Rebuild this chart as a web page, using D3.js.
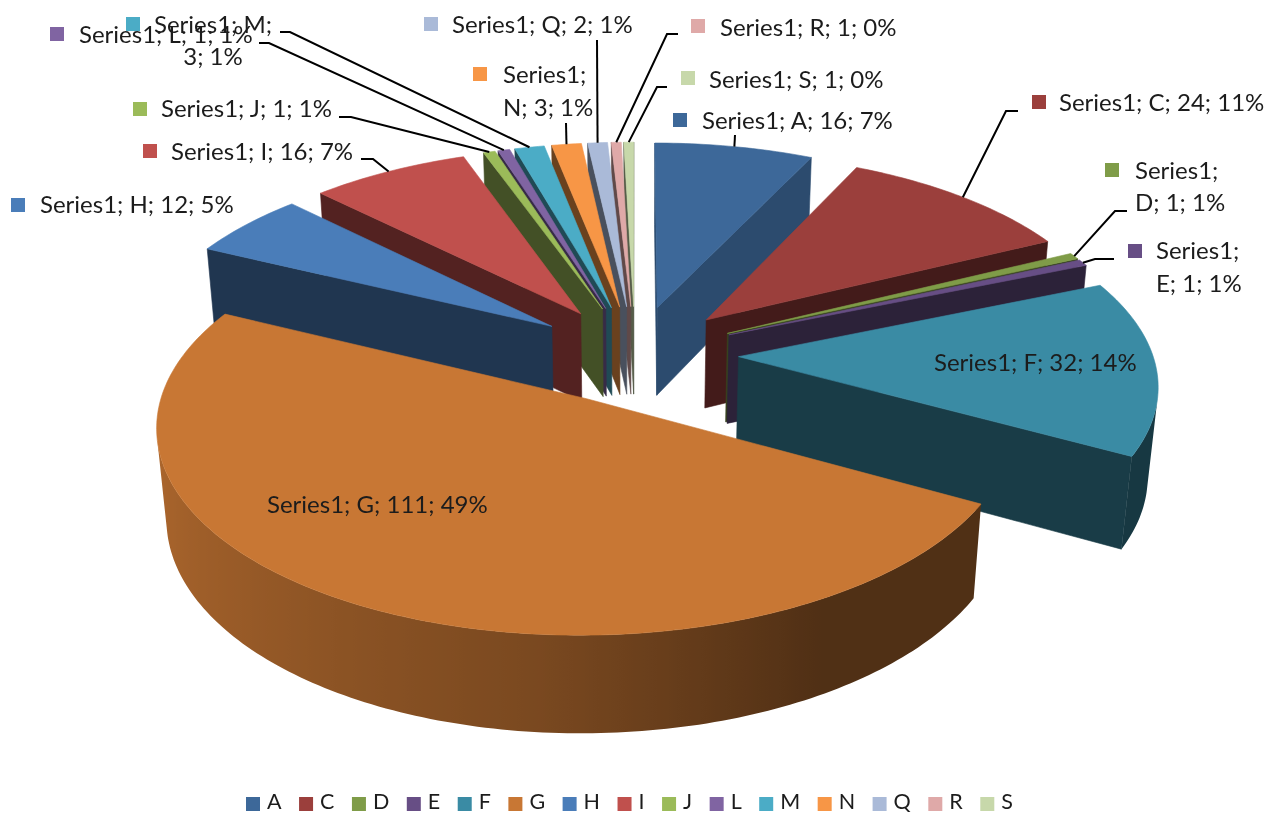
<!DOCTYPE html>
<html>
<head>
<meta charset="utf-8">
<title>Series1 pie</title>
<script src="https://cdn.jsdelivr.net/npm/d3@7/dist/d3.min.js"></script>
<style>
  html, body { margin: 0; padding: 0; background: #fff; }
  svg { display: block; filter: blur(0.4px); }
  text { font-family: Lato, "Open Sans", sans-serif; fill: #1c1c1c; }
</style>
</head>
<body>
<div id="chart"></div>
<script>
// values (the small ones are a bit over/under 1 so the rounded % match)
const seriesName = "Series1";
const categories = ["A", "C", "D", "E", "F", "G", "H", "I", "J", "L", "M", "N", "Q", "R", "S"];
const values = [16, 24, 1.2, 1.2, 32, 111, 12, 16, 1.2, 1.2, 3, 3, 2, 1, 1];
const colors = ["#3d6899", "#9b3f3c", "#7f9c48", "#674e85", "#3a8ba4", "#c87734", "#4a7db9",
  "#c0504d", "#9bbb59", "#8064a2", "#4bacc6", "#f79646", "#aabad8", "#dfa9a8", "#c7d8aa"];

// where each data label sits: key box corner, text x, text lines' centre y, leader polyline start
const labelLayout = {
  A: { key: [673, 113], x: 702, y: [121], leader: [[735, 135]] },
  C: { key: [1032, 95], x: 1059, y: [103], leader: [[1018, 111], [1006, 111]] },
  D: { key: [1105, 163], x: 1135, y: [171, 203], lines: 2, leader: [[1127, 211], [1115, 211]] },
  E: { key: [1128, 244], x: 1156, y: [251, 284], lines: 2, leader: [[1114, 259], [1095, 259]] },
  F: { key: [905, 356], x: 934, y: [363] },
  G: { key: [239, 498], x: 267, y: [505] },
  H: { key: [11, 198], x: 40, y: [205] },
  I: { key: [143, 144], x: 171, y: [152], leader: [[361, 159], [373, 159]] },
  J: { key: [133, 102], x: 161, y: [109], leader: [[339, 117], [351, 117]] },
  L: { key: [50, 27], x: 79, y: [35], leader: [[259, 43], [269, 43]] },
  M: { key: [126, 17], x: 154, y: [25, 57], lines: 2, centre: 213, leader: [[280, 32], [290, 32]] },
  N: { key: [473, 67], x: 503, y: [75, 108], lines: 2, leader: [[566, 123]] },
  Q: { key: [424, 17], x: 452, y: [25], leader: [[597, 40]] },
  R: { key: [691, 19], x: 720, y: [28], leader: [[678, 34], [667, 34]] },
  S: { key: [681, 71], x: 709, y: [80], leader: [[667, 87], [657, 87]] },
};

const width = 1267;
const height = 814;

// camera fitted to the reference: A/B screen scales, p perspective, q and g for the drop to the bottom face
const cam = { cx: 635, cy: 354, A: 414, B: 195.5, p: 0.1227, q: 0.02, g: 91 };
const explode = 0.25;
const KEY_SIZE = 14;
const LABEL_FONT = 24;

function project(x, y, bottom) {
  const w = 1 + cam.p * y + (bottom ? cam.q : 0);
  return [
    cam.cx + (cam.A * x) / w,
    cam.cy - (cam.B * y - (bottom ? cam.g : 0)) / w,
  ];
}

const svg = d3.select("#chart").append("svg").attr("width", width).attr("height", height);
const defs = svg.append("defs");

const pie = d3.pie().sort(null).value((d) => d.value);
const slices = pie(categories.map((c, i) => ({ cat: c, value: values[i], color: colors[i] })));
const total = d3.sum(values);

const line = d3.line();

// 0 = straight up, going clockwise, same as d3.pie
function onPlane(s, a, r) {
  const mid = (s.startAngle + s.endAngle) / 2;
  return [
    explode * Math.sin(mid) + r * Math.sin(a),
    explode * Math.cos(mid) + r * Math.cos(a),
  ];
}

function pt(s, a, r, bottom) {
  const p = onPlane(s, a, r);
  return project(p[0], p[1], bottom);
}

const wallShade = d3.scaleLinear().domain([90, 150, 185, 230, 270]).range([0.4, 0.4, 0.61, 0.77, 0.9]).clamp(true);

function darker(color, f) {
  return d3.interpolateRgb("#000", color)(f);
}

// painter order: far slices first
const drawOrder = slices.slice().sort((a, b) => {
  const ma = (a.startAngle + a.endAngle) / 2;
  const mb = (b.startAngle + b.endAngle) / 2;
  return Math.cos(mb) - Math.cos(ma);
});

const gPie = svg.append("g");

drawOrder.forEach((s) => {
  const g = gPie.append("g").attr("class", "slice");
  const color = s.data.color;
  const radialShade = s.data.cat === "A" ? 0.72 : 0.43;

  const drawFace = (poly, fill) => {
    if (d3.polygonArea(poly) <= 0) return; // facing away
    g.append("path").attr("d", line(poly) + "Z").attr("fill", fill).attr("stroke", fill).attr("stroke-width", 0.6);
  };

  // radial walls
  drawFace([pt(s, 0, 0), pt(s, s.startAngle, 1), pt(s, s.startAngle, 1, true), pt(s, 0, 0, true)], darker(color, radialShade));
  drawFace([pt(s, s.endAngle, 1), pt(s, 0, 0), pt(s, 0, 0, true), pt(s, s.endAngle, 1, true)], darker(color, radialShade));

  // rim: keep the strips that face the camera, one path with a gradient across them
  const steps = Math.max(2, Math.ceil(((s.endAngle - s.startAngle) * 180) / Math.PI));
  const rimAngles = d3.range(steps + 1).map((i) => s.startAngle + ((s.endAngle - s.startAngle) * i) / steps);
  const visible = rimAngles.slice(0, -1).filter((a, i) => {
    const b = rimAngles[i + 1];
    return d3.polygonArea([pt(s, a, 1), pt(s, b, 1), pt(s, b, 1, true), pt(s, a, 1, true)]) > 0;
  });
  if (visible.length) {
    const angles = visible.concat([visible[visible.length - 1] + (s.endAngle - s.startAngle) / steps]);
    const xs = angles.map((a) => pt(s, a, 1)[0]);
    const x1 = d3.min(xs);
    const x2 = d3.max(xs);
    const gradId = `rim-${s.data.cat}`;
    const grad = defs.append("linearGradient").attr("id", gradId)
      .attr("gradientUnits", "userSpaceOnUse")
      .attr("x1", x1).attr("x2", x2).attr("y1", 0).attr("y2", 0);
    angles.slice().reverse().forEach((a) => {
      grad.append("stop")
        .attr("offset", (pt(s, a, 1)[0] - x1) / (x2 - x1 || 1))
        .attr("stop-color", darker(color, wallShade((a * 180) / Math.PI)));
    });
    const rimPoly = angles.map((a) => pt(s, a, 1)).concat(angles.slice().reverse().map((a) => pt(s, a, 1, true)));
    g.append("path").attr("d", line(rimPoly) + "Z").attr("fill", `url(#${gradId})`);
  }

  // top face
  const top = [pt(s, 0, 0)].concat(rimAngles.map((a) => pt(s, a, 1)));
  g.append("path").attr("d", line(top) + "Z").attr("fill", color).attr("stroke", color).attr("stroke-width", 0.6);
});

// leaders and data labels
const gLabels = svg.append("g");
const pct = d3.format(".0f");

slices.forEach((s) => {
  const layout = labelLayout[s.data.cat];
  const mid = (s.startAngle + s.endAngle) / 2;
  const head = `${seriesName}; ${s.data.cat};`;
  const tail = `${pct(s.data.value)}; ${pct((s.data.value / total) * 100)}%`;

  if (layout.leader) {
    gLabels.append("path")
      .attr("d", line(layout.leader.concat([pt(s, mid, 1)])))
      .attr("fill", "none").attr("stroke", "#000").attr("stroke-width", 2);
  }

  gLabels.append("rect")
    .attr("x", layout.key[0]).attr("y", layout.key[1])
    .attr("width", KEY_SIZE).attr("height", KEY_SIZE)
    .attr("fill", s.data.color);

  let rows = [`${head} ${tail}`];
  if (layout.lines === 2) {
    // wrapped labels break after the series name, M breaks after the category
    rows = s.data.cat === "M" ? [head, tail] : [`${seriesName};`, `${s.data.cat}; ${tail}`];
  }
  rows.forEach((row, i) => {
    const centred = layout.centre && i === 1;
    gLabels.append("text")
      .attr("x", centred ? layout.centre : layout.x)
      .attr("y", layout.y[i])
      .attr("dy", "0.35em")
      .attr("text-anchor", centred ? "middle" : "start")
      .attr("font-size", LABEL_FONT)
      .text(row);
  });
});

// legend, flowed left to right along the bottom
const legend = svg.append("g").attr("class", "legend");
let legendX = 246;
slices.forEach((s) => {
  legend.append("rect")
    .attr("x", legendX).attr("y", 797)
    .attr("width", KEY_SIZE).attr("height", KEY_SIZE)
    .attr("fill", s.data.color);
  const t = legend.append("text")
    .attr("x", legendX + 21).attr("y", 809.3)
    .attr("font-size", 21.5)
    .text(s.data.cat);
  legendX += 21 + t.node().getComputedTextLength() + 17.5;
});
</script>
</body>
</html>
